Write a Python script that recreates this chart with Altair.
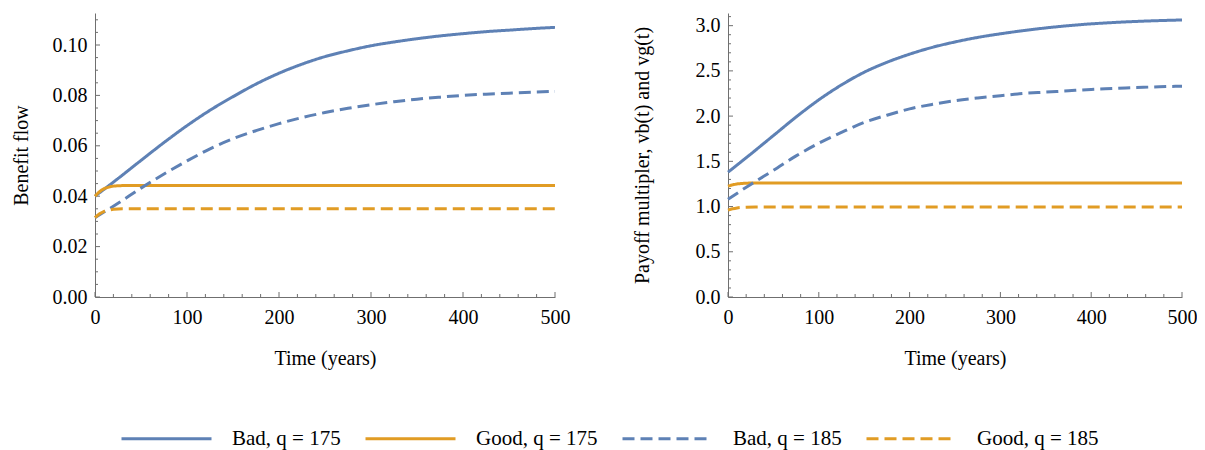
import altair as alt
import pandas as pd

# ---------------- data ----------------
series_names = ["Bad, q = 175", "Good, q = 175", "Bad, q = 185", "Good, q = 185"]

t_bad = [0, 25, 50, 75, 100, 125, 150, 175, 200, 225, 250, 275, 300, 325, 350, 375, 400, 425, 450, 475, 500]
benefit_bad_175 = [0.0400, 0.0470, 0.0542, 0.0613, 0.0680, 0.0741, 0.0795, 0.0845, 0.0888, 0.0924, 0.0954,
                   0.0977, 0.0997, 0.1012, 0.1025, 0.1036, 0.1045, 0.1053, 0.1059, 0.1065, 0.1070]
benefit_bad_185 = [0.0315, 0.0372, 0.0432, 0.0488, 0.0540, 0.0588, 0.0628, 0.0660, 0.0688, 0.0712, 0.0732,
                   0.0749, 0.0763, 0.0775, 0.0785, 0.0793, 0.0800, 0.0805, 0.0809, 0.0813, 0.0816]
payoff_bad_175 = [1.38, 1.58, 1.785, 1.99, 2.18, 2.345, 2.485, 2.595, 2.685, 2.76, 2.82, 2.87, 2.91, 2.945,
                  2.975, 3.00, 3.02, 3.035, 3.047, 3.056, 3.063]
payoff_bad_185 = [1.08, 1.245, 1.40, 1.56, 1.70, 1.82, 1.93, 2.01, 2.08, 2.13, 2.17, 2.20, 2.225, 2.25, 2.265,
                  2.28, 2.295, 2.305, 2.315, 2.325, 2.33]

t_good = [0, 5, 10, 15, 20, 30, 50, 100, 200, 300, 400, 500]
benefit_good_175 = [0.0400, 0.0418, 0.0430, 0.0436, 0.0440, 0.0442, 0.0442, 0.0442, 0.0442, 0.0442, 0.0442, 0.0442]
benefit_good_185 = [0.0315, 0.0330, 0.0340, 0.0345, 0.0348, 0.0350, 0.0350, 0.0350, 0.0350, 0.0350, 0.0350, 0.0350]
payoff_good_175 = [1.225, 1.240, 1.250, 1.255, 1.258, 1.261, 1.261, 1.261, 1.261, 1.261, 1.261, 1.261]
payoff_good_185 = [0.960, 0.975, 0.985, 0.990, 0.992, 0.994, 0.994, 0.994, 0.994, 0.994, 0.994, 0.994]

x_major = [0, 100, 200, 300, 400, 500]
x_minor = [v for v in range(0, 501, 20) if v % 100 != 0]
y_left_major = [0.00, 0.02, 0.04, 0.06, 0.08, 0.10]
y_left_minor = [round(i * 0.005, 3) for i in range(0, 23) if i % 4 != 0]
y_right_major = [0.0, 0.5, 1.0, 1.5, 2.0, 2.5, 3.0]
y_right_minor = [round(i * 0.1, 1) for i in range(0, 32) if i % 5 != 0]

BLUE = "#5E81B5"
ORANGE = "#E19C24"
AXIS_GRAY = "#6f6f6f"
FONT = "Liberation Serif"
H = 284


def long_frame(bad175, good175, bad185, good185):
    rows = []
    for name, ts, vs in [(series_names[0], t_bad, bad175), (series_names[1], t_good, good175),
                         (series_names[2], t_bad, bad185), (series_names[3], t_good, good185)]:
        for t, v in zip(ts, vs):
            rows.append({"t": t, "value": v, "series": name})
    return pd.DataFrame(rows)


df_left = long_frame(benefit_bad_175, benefit_good_175, benefit_bad_185, benefit_good_185)
df_right = long_frame(payoff_bad_175, payoff_good_175, payoff_bad_185, payoff_good_185)

color_scale = alt.Scale(domain=series_names, range=[BLUE, ORANGE, BLUE, ORANGE])
dash_scale = alt.Scale(domain=series_names, range=[[1, 0], [1, 0], [12, 6], [12, 6]])

legend = alt.Legend(
    title=None, orient="none", direction="horizontal", legendX=61, legendY=415,
    symbolType="M -9 0 L 9 0", symbolSize=100, symbolStrokeWidth=3,
    labelFont=FONT, labelFontSize=21, labelColor="black",
    labelOffset=55, columnPadding=18,
)


def panel(df, width, ymax, y_major, y_minor, y_title, y_fmt, title_pad):
    x_enc = alt.X("t:Q", scale=alt.Scale(domain=[0, 500], nice=False, zero=False),
                  axis=alt.Axis(values=x_major, title="Time (years)", titlePadding=21,
                                labelPadding=10, labelFlush=False, format="d"))
    y_enc = alt.Y("value:Q", scale=alt.Scale(domain=[0, ymax], nice=False),
                  axis=alt.Axis(values=y_major, format=y_fmt, title=y_title,
                                titlePadding=title_pad, labelPadding=8))
    lines = alt.Chart(df).mark_line(strokeWidth=3, interpolate="monotone").encode(
        x=x_enc, y=y_enc,
        color=alt.Color("series:N", scale=color_scale, legend=legend),
        strokeDash=alt.StrokeDash("series:N", scale=dash_scale, legend=legend),
    )
    xmaj = alt.Chart(pd.DataFrame({"t": x_major})).mark_rule(color=AXIS_GRAY, strokeWidth=1).encode(
        x=x_enc, y=alt.value(H), y2=alt.value(H - 5))
    xmin = alt.Chart(pd.DataFrame({"t": x_minor})).mark_rule(color=AXIS_GRAY, strokeWidth=1).encode(
        x=x_enc, y=alt.value(H), y2=alt.value(H - 3))
    ymaj = alt.Chart(pd.DataFrame({"value": y_major})).mark_rule(color=AXIS_GRAY, strokeWidth=1).encode(
        y=y_enc, x=alt.value(0), x2=alt.value(5))
    ymin = alt.Chart(pd.DataFrame({"value": y_minor})).mark_rule(color=AXIS_GRAY, strokeWidth=1).encode(
        y=y_enc, x=alt.value(0), x2=alt.value(3))
    return alt.layer(xmin, xmaj, ymin, ymaj, lines).properties(width=width, height=H)


left = panel(df_left, 460, 0.1127, y_left_major, y_left_minor, "Benefit flow", ".2f", 21)
right = panel(df_right, 454, 3.14, y_right_major, y_right_minor,
              "Payoff multipler, vb(t) and vg(t)", ".1f", 43)

chart = alt.hconcat(left, right, spacing=61).properties(
    padding={"left": 3, "top": 5, "right": 0, "bottom": 5}
).configure(
    background="white"
).configure_view(stroke=None).configure_axis(
    grid=False, ticks=False, tickSize=0,
    domainColor=AXIS_GRAY, domainWidth=1,
    labelFont=FONT, labelFontSize=20, labelColor="black",
    titleFont=FONT, titleFontSize=20, titleColor="black", titleFontWeight="normal",
)

chart.save("out.html", embed_options={"renderer": "svg", "actions": False})
